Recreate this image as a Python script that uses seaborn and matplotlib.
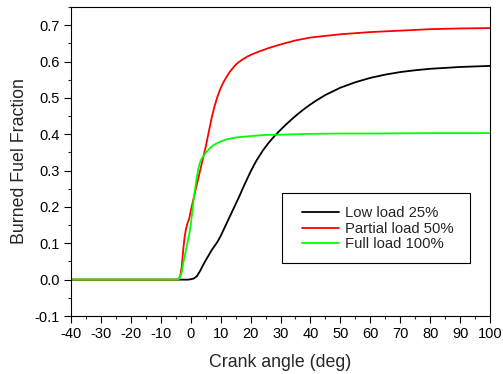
import matplotlib
matplotlib.use("Agg")
import matplotlib.pyplot as plt
from matplotlib.patches import Rectangle
from matplotlib.ticker import MultipleLocator, FormatStrFormatter
import numpy as np
import pandas as pd
import seaborn as sns

# Burned fuel fraction vs crank angle for three engine loads
labels = ["Low load 25%", "Partial load 50%", "Full load 100%"]
colors = ["#000000", "#FF0000", "#00FF00"]

angle_low = [-40, -1, 0, 1, 2, 3, 4, 5, 6, 7, 8, 9, 10, 12, 14, 16, 18, 20,
             21, 22, 24, 26, 28, 30, 32, 34, 36, 38, 40, 42, 45, 50, 55, 60,
             65, 70, 75, 80, 90, 100]
frac_low = [0.0, 0.0, 0.001, 0.003, 0.009, 0.022, 0.038, 0.053, 0.067, 0.081,
            0.093, 0.105, 0.12, 0.155, 0.19, 0.225, 0.262, 0.297, 0.313,
            0.328, 0.354, 0.376, 0.395, 0.412, 0.428, 0.443, 0.457, 0.47,
            0.482, 0.493, 0.508, 0.528, 0.543, 0.555, 0.564, 0.571, 0.576,
            0.58, 0.585, 0.588]

angle_part = [-40, -4.5, -4, -3.5, -3, -2.5, -2, -1.5, -1, -0.5, 0, 1, 2, 3, 4,
              5, 6, 7, 8, 9, 10, 11, 12, 13, 14, 15, 16, 17, 18, 19, 20, 22,
              24, 26, 28, 30, 35, 40, 50, 60, 70, 80, 90, 100]
frac_part = [0.0, 0.0, 0.002, 0.01, 0.035, 0.083, 0.12, 0.142, 0.157, 0.168,
             0.188, 0.225, 0.26, 0.295, 0.33, 0.365, 0.405, 0.445, 0.478,
             0.505, 0.527, 0.544, 0.558, 0.571, 0.581, 0.591, 0.598, 0.604,
             0.609, 0.614, 0.618, 0.625, 0.631, 0.637, 0.642, 0.647, 0.658,
             0.666, 0.675, 0.681, 0.685, 0.689, 0.691, 0.692]

angle_full = [-40, -4.5, -4, -3.5, -3, -2.5, -2, -1.5, -1, -0.5, 0, 0.5, 1,
              1.5, 2, 2.5, 3, 3.5, 4, 5, 6, 7, 8, 10, 12, 15, 20, 25, 30, 40,
              50, 60, 80, 100]
frac_full = [0.0, 0.0, 0.002, 0.008, 0.02, 0.045, 0.065, 0.085, 0.105, 0.125,
             0.15, 0.185, 0.22, 0.252, 0.28, 0.303, 0.32, 0.33, 0.337, 0.349,
             0.358, 0.366, 0.372, 0.38, 0.386, 0.391, 0.395, 0.398, 0.399,
             0.401, 0.402, 0.402, 0.403, 0.403]

df = pd.concat([
    pd.DataFrame({"angle": angle_low, "frac": frac_low, "load": labels[0]}),
    pd.DataFrame({"angle": angle_part, "frac": frac_part, "load": labels[1]}),
    pd.DataFrame({"angle": angle_full, "frac": frac_full, "load": labels[2]}),
])

sns.set_style("ticks")
plt.rcParams["font.family"] = ["Liberation Sans", "DejaVu Sans"]
plt.rcParams["axes.unicode_minus"] = False

fig = plt.figure(figsize=(5.03, 3.74), dpi=100)
ax = fig.add_axes([71 / 503, 58 / 374, 419 / 503, 309 / 374])

sns.lineplot(data=df, x="angle", y="frac", hue="load", hue_order=labels,
             palette=dict(zip(labels, colors)), linewidth=1.3,
             errorbar=None, ax=ax)
for ln in ax.lines:
    ln.set_solid_joinstyle("round")

ax.set_xlim(-40, 100)
ax.set_ylim(-0.1, 0.75)
ax.xaxis.set_major_locator(MultipleLocator(10))
ax.xaxis.set_minor_locator(MultipleLocator(5))
ax.yaxis.set_major_locator(MultipleLocator(0.1))
ax.yaxis.set_minor_locator(MultipleLocator(0.05))
ax.yaxis.set_major_formatter(FormatStrFormatter("%.1f"))
ax.tick_params(which="major", direction="out", length=5, width=0.8,
               labelsize=10.5, pad=3, colors="black")
ax.tick_params(which="minor", direction="out", length=2.5, width=0.8)
ax.tick_params(top=False, right=False, which="both")
for s in ax.spines.values():
    s.set_visible(True)
    s.set_linewidth(0.8)
    s.set_color("black")

ax.set_xlabel("Crank angle (deg)", fontsize=12.8, labelpad=9)
ax.set_ylabel("Burned Fuel Fraction", fontsize=12.8, labelpad=5)

handles, hlabels = ax.get_legend_handles_labels()
leg = ax.legend(handles, hlabels, loc="center left",
                bbox_to_anchor=(0.5506, 0.2825), frameon=False,
                fontsize=10.7, handlelength=2.53, handletextpad=0.35,
                labelspacing=0.1, borderpad=0, borderaxespad=0)
ax.add_patch(Rectangle((0.5043, 0.1706), 0.448, 0.2265,
                       transform=ax.transAxes, fill=False,
                       edgecolor="black", linewidth=0.8, zorder=5))

fig.savefig("out.png", dpi=100)
